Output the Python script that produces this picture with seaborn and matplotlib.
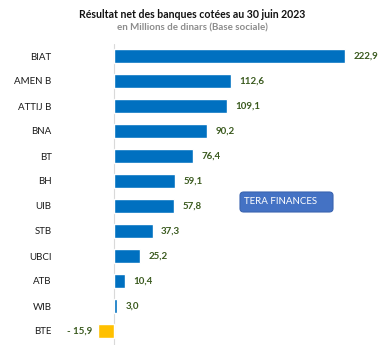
import numpy as np
import pandas as pd
import matplotlib
matplotlib.use('Agg')
import matplotlib.pyplot as plt
import seaborn as sns
from matplotlib.patches import FancyBboxPatch

banques = ["BIAT", "AMEN B", "ATTIJ B", "BNA", "BT", "BH", "UIB", "STB",
           "UBCI", "ATB", "WIB", "BTE"]
resultat = [222.9, 112.6, 109.1, 90.2, 76.4, 59.1, 57.8, 37.3, 25.2, 10.4, 3.0, -15.9]

df = pd.DataFrame({"banque": banques, "resultat": resultat})
couleurs = ["#0070C0" if v >= 0 else "#FFC000" for v in resultat]

sns.set_theme(style="white")
plt.rcParams['font.family'] = ['Lato', 'DejaVu Sans']

W, H = 385, 351
fig = plt.figure(figsize=(W / 100, H / 100), dpi=100)
# axes en pixels : gauche 60, droite 380, haut 44, bas 345
ax = fig.add_axes([60 / W, 1 - 345 / H, 320 / W, 301 / H])

sns.barplot(data=df, y="banque", x="resultat", hue="banque", palette=couleurs,
            legend=False, width=0.56, ax=ax, saturation=1)

ax.set_xlim(-52.1, 256.8)
ax.set_ylim(11.56, -0.48)
ax.axvline(0, color="#D9D9D9", lw=0.8, zorder=0)
for s in ax.spines.values():
    s.set_visible(False)
ax.set_xticks([])
ax.set_xlabel("")
ax.set_ylabel("")
ax.tick_params(axis="y", length=0, pad=6, labelsize=7, labelcolor="#1a1a1a")

for i, v in enumerate(resultat):
    txt = f"{abs(v):.1f}".replace(".", ",")
    if v >= 0:
        ax.text(v + 8, i, txt, va="center", ha="left", fontsize=7,
                color="#3A5A1E", fontweight="bold")
    else:
        ax.text(v - 5, i, "- " + txt, va="center", ha="right", fontsize=7,
                color="#3A5A1E", fontweight="bold")

fig.text(192 / W, 1 - 14 / H, "Résultat net des banques cotées au 30 juin 2023",
         ha="center", va="center", fontsize=7.6, fontweight="bold", color="#111111")
fig.text(192 / W, 1 - 28 / H, "en Millions de dinars (Base sociale)",
         ha="center", va="center", fontsize=7, color="#8C8C8C", fontweight="bold")

box = FancyBboxPatch((240 / W, 1 - 212 / H), 93 / W, 20 / H,
                     boxstyle="round,pad=0,rounding_size=0.01",
                     transform=fig.transFigure, facecolor="#4472C4",
                     edgecolor="#3A64B0", lw=0.8)
fig.patches.append(box)
fig.text(281 / W, 1 - 202 / H, "TERA FINANCES", ha="center", va="center",
         fontsize=7, color="white")

fig.savefig("out.png", dpi=100)
